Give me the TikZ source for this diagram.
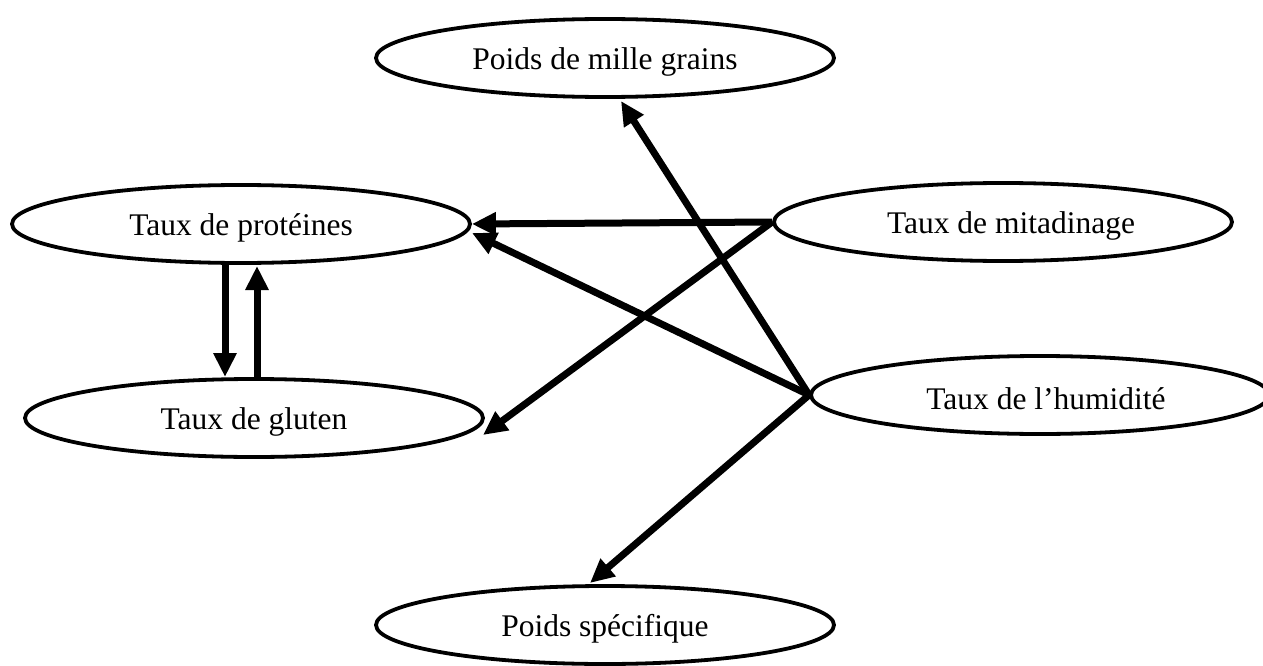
\documentclass[tikz,border=0pt]{standalone}
\usepackage{fontspec}
\setmainfont{Liberation Serif}
\usetikzlibrary{shapes.geometric,arrows.meta}
\newcommand{\lowtxt}[1]{\raisebox{-4pt}[\height][\depth]{#1}}
\begin{document}
\begin{tikzpicture}[x=1pt,y=-1pt,
  ell/.style={draw,line width=3.8pt,ellipse,minimum width=458pt,minimum height=78pt,inner sep=0pt,font=\fontsize{31.5}{36}\selectfont},
  arr/.style={line width=7pt,-{Triangle[length=24pt,width=22pt]}}]
\useasboundingbox (0,0) rectangle (1263,666);
\node[ell] (mille) at (605,58) {\lowtxt{Poids de mille grains}};
\node[ell] (prot) at (241,224) {\lowtxt{Taux de protéines}};
\node[ell] (mit) at (1003,222) {\lowtxt{\hspace*{16pt}Taux de mitadinage}};
\node[ell] (glu) at (254,418) {\lowtxt{Taux de gluten}};
\node[ell] (hum) at (1040,395) {\lowtxt{\hspace*{12pt}Taux de l’humidité}};
\node[ell] (spec) at (605,625) {\lowtxt{Poids spécifique}};
\coordinate (tmille) at (621,101);
\coordinate (tprot) at (472,233);
\coordinate (tglu) at (483,435);
\coordinate (tspec) at (590,583);
\coordinate (p1) at (225,265);
\coordinate (p2) at (225,377);
\coordinate (p3) at (257,378);
\coordinate (p4) at (257,266);
\draw[arr] (hum.west) -- (tmille);
\draw[arr] (mit.west) -- (prot.east);
\draw[arr] (mit.west) -- (tglu);
\draw[arr] (hum.west) -- (tprot);
\draw[arr] (hum.west) -- (tspec);
\draw[arr] (p1) -- (p2);
\draw[arr] (p3) -- (p4);
\end{tikzpicture}
\end{document}
